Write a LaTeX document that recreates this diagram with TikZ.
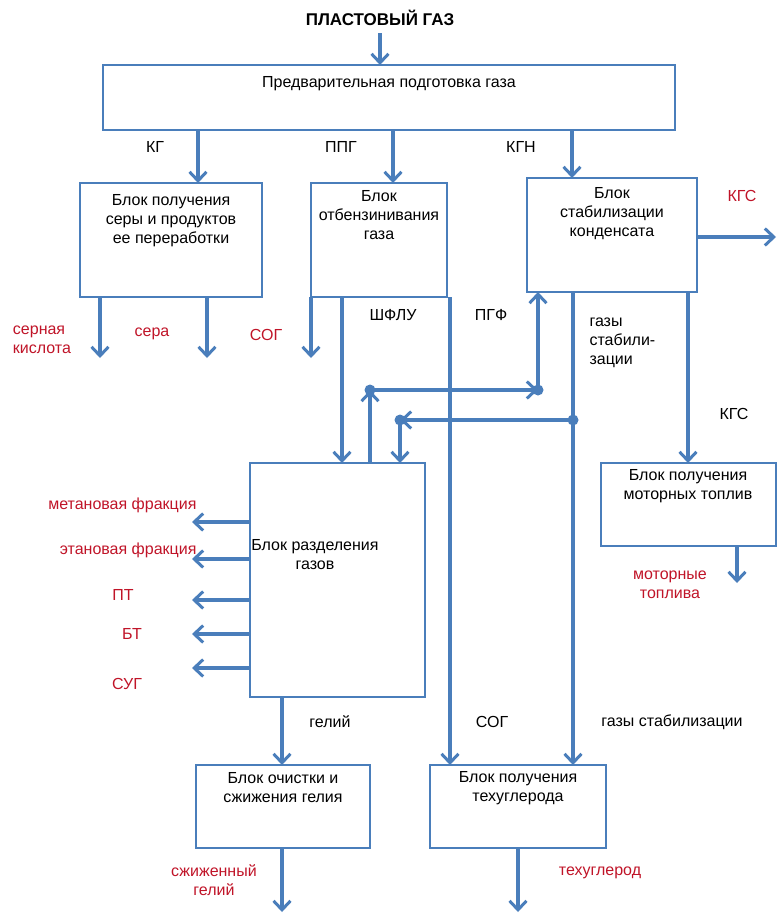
\documentclass[tikz,border=0pt]{standalone}
\usepackage{fontspec}
\setmainfont{Liberation Sans}
\usetikzlibrary{arrows.meta}
\definecolor{flow}{RGB}{74,126,187}
\definecolor{prod}{RGB}{192,20,40}
\begin{document}
\begin{tikzpicture}[x=1pt, y=-1pt,
        blk/.style={draw=flow, line width=2.6pt, inner sep=0pt},
        txt/.style={align=center, font=\fontsize{16}{19}\selectfont},
        lbl/.style={font=\fontsize{16}{19}\selectfont},
        prd/.style={lbl, text=prod},
        arr/.style={draw=flow, line width=3.6pt, -{Straight Barb[length=9pt, width=17pt, line width=3pt]}},
        dot/.style={circle, fill=flow, inner sep=0pt, minimum size=11pt}
      ]
      \useasboundingbox (0,0) rectangle (784,918);
      % boxes
      \draw[blk] (103,65) rectangle (675,130);
      \draw[blk] (80,183) rectangle (262,297);
      \draw[blk] (311,183) rectangle (447,297);
      \draw[blk] (527,178) rectangle (697,292);
      \draw[blk] (250,463) rectangle (425,697);
      \draw[blk] (601,463) rectangle (776,546);
      \draw[blk] (196,765) rectangle (370,848);
      \draw[blk] (430,765) rectangle (606,848);
      % box texts
      \node[lbl, font=\fontsize{17}{19}\bfseries] (src) at (380,18) {ПЛАСТОВЫЙ ГАЗ};
      \node[txt] (prep) at (389,84) {Предварительная подготовка газа};
      \node[txt] (sulf) at (171,221) {Блок получения\\серы и продуктов\\ее переработки};
      \node[txt] (gasl) at (379,215) {Блок\\отбензинивания\\газа};
      \node[txt] (stab) at (612,214) {Блок\\стабилизации\\конденсата};
      \node[txt] (sep) at (315,555) {Блок разделения\\газов};
      \node[txt] (mot) at (688,486) {Блок получения\\моторных топлив};
      \node[txt] (hel) at (283,788) {Блок очистки и\\сжижения гелия};
      \node[txt] (carb) at (518,788) {Блок получения\\техуглерода};
      % coordinates
      \coordinate (s0) at (380,33);   \coordinate (s1) at (380,65);
      \coordinate (k0) at (198,130);  \coordinate (k1) at (198,183);
      \coordinate (p0) at (393,130);  \coordinate (p1) at (393,183);
      \coordinate (n0) at (572,130);  \coordinate (n1) at (572,178);
      \coordinate (g0) at (697,237);  \coordinate (g1) at (776,237);
      \coordinate (a0) at (100,297);  \coordinate (a1) at (100,358);
      \coordinate (b0) at (207,297);  \coordinate (b1) at (207,358);
      \coordinate (c0) at (311,297);  \coordinate (c1) at (311,358);
      \coordinate (f0) at (342,297);  \coordinate (f1) at (342,463);
      \coordinate (q0) at (450,297);  \coordinate (q1) at (450,765);
      \coordinate (u0) at (370,463);  \node[dot] (u1) at (370,390) {};
      \node[dot] (u2) at (538,390) {};  \coordinate (u3) at (538,292);
      \coordinate (v0) at (573,292);  \coordinate (v1) at (573,765);
      \node[dot] (v2) at (573,420) {};  \node[dot] (v3) at (400,420) {};
      \coordinate (v4) at (400,463);
      \coordinate (m0) at (688,292);  \coordinate (m1) at (688,463);
      \coordinate (t0) at (737,546);  \coordinate (t1) at (737,583);
      \coordinate (h0) at (282,697);  \coordinate (h1) at (282,765);
      \coordinate (h2) at (282,848);  \coordinate (h3) at (282,912);
      \coordinate (e0) at (518,848);  \coordinate (e1) at (518,912);
      % edges
      \draw[arr] (s0) -- (s1);
      \draw[arr] (k0) -- (k1);
      \draw[arr] (p0) -- (p1);
      \draw[arr] (n0) -- (n1);
      \draw[arr] (g0) -- (g1);
      \draw[arr] (a0) -- (a1);
      \draw[arr] (b0) -- (b1);
      \draw[arr] (c0) -- (c1);
      \draw[arr] (f0) -- (f1);
      \draw[arr] (q0) -- (q1);
      \draw[arr] (u0) -- (u1.center);
      \draw[arr] (u1.center) -- (u2.center);
      \draw[arr] (u2.center) -- (u3);
      \draw[arr] (v0) -- (v1);
      \draw[arr] (v2.center) -- (v3.center);
      \draw[arr] (v3.center) -- (v4);
      \draw[arr] (m0) -- (m1);
      \draw[arr] (t0) -- (t1);
      \draw[arr] (h0) -- (h1);
      \draw[arr] (h2) -- (h3);
      \draw[arr] (e0) -- (e1);
      \foreach \y [count=\i] in {522,559,600,634,668} {
        \coordinate (o\i) at (250,\y);
        \coordinate (w\i) at (192,\y);
        \draw[arr] (o\i) -- (w\i);
      }
      % labels
      \node[lbl] (lkg) at (155,147) {КГ};
      \node[lbl] (lppg) at (341,147) {ППГ};
      \node[lbl] (lkgn) at (521,147) {КГН};
      \node[prd] (lkgs) at (742,196) {КГС};
      \node[prd, align=left] (lacid) at (42,340) {серная\\кислота};
      \node[prd] (lsul) at (152,334) {сера};
      \node[prd] (lsog) at (266,335) {СОГ};
      \node[lbl] (lsh) at (393,315) {ШФЛУ};
      \node[lbl] (lpgf) at (491,315) {ПГФ};
      \node[lbl, align=left, anchor=west] (lgs) at (586,343) {газы\\стабили-\\зации};
      \node[lbl] (lkgs2) at (734,414) {КГС};
      \node[prd, align=center] (lmot) at (670,585) {моторные\\топлива};
      \node[prd, anchor=east] (lmet) at (200,505) {метановая фракция};
      \node[prd, anchor=east] (leth) at (200,550) {этановая фракция};
      \node[prd] (lpt) at (123,595) {ПТ};
      \node[prd] (lbt) at (132,634) {БТ};
      \node[prd] (lsug) at (127,684) {СУГ};
      \node[lbl] (lhe) at (330,722) {гелий};
      \node[lbl] (lsog2) at (492,722) {СОГ};
      \node[lbl] (lgs2) at (672,722) {газы стабилизации};
      \node[prd, align=center] (lhel) at (214,880) {сжиженный\\гелий};
      \node[prd] (lcarb) at (600,873) {техуглерод};
\end{tikzpicture}
\end{document}
